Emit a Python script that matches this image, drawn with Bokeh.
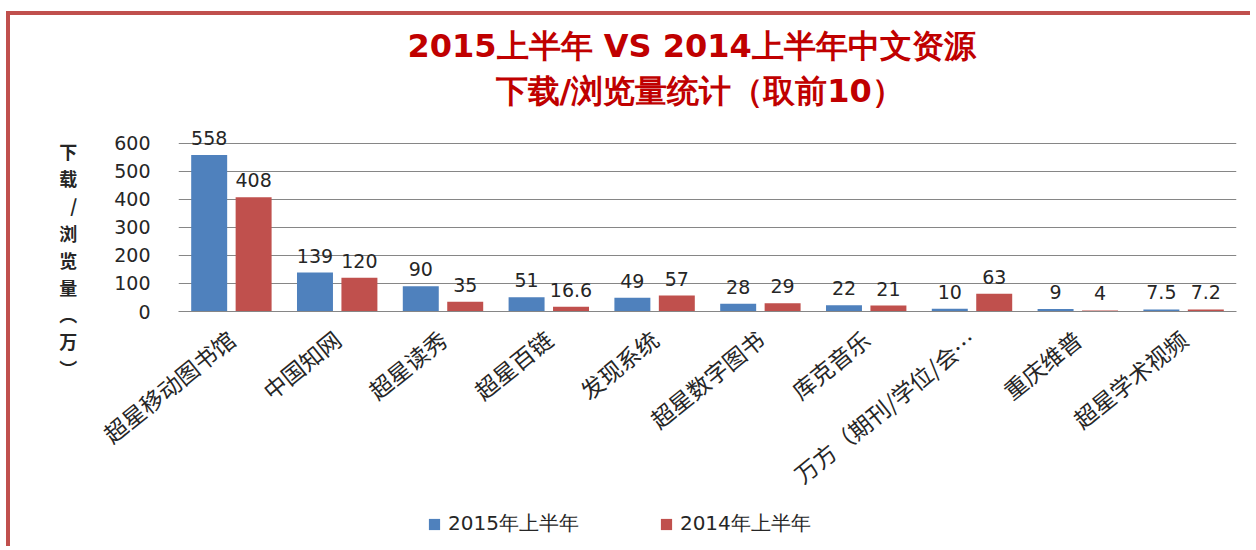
import numpy as np
from bokeh.plotting import figure
from bokeh.layouts import column
from bokeh.models import (ColumnDataSource, FactorRange, Range1d, FixedTicker, Legend, LegendItem,
                          LabelSet, Title)
from bokeh.transform import dodge
from bokeh.core.properties import value
from bokeh.embed import file_html
from bokeh.resources import INLINE

categories = ["超星移动图书馆", "中国知网", "超星读秀", "超星百链", "发现系统",
              "超星数字图书", "库克音乐", "万方（期刊/学位/会…", "重庆维普", "超星学术视频"]
v2015 = [558, 139, 90, 51, 49, 28, 22, 10, 9, 7.5]
v2014 = [408, 120, 35, 16.6, 57, 29, 21, 63, 4, 7.2]
series_names = ["2015年上半年", "2014年上半年"]
y_ticks = [0, 100, 200, 300, 400, 500, 600]
title_line1 = "2015上半年 VS 2014上半年中文资源"
title_line2 = "下载/浏览量统计（取前10）"
y_label = "\n\n\n下\n载\n/\n浏\n览\n量\n︵\n万\n︶"

BLUE = "#4F81BD"
RED = "#C0504D"
LATIN = "DejaVu Sans"
CJK = "Noto Sans CJK SC"

src = ColumnDataSource(dict(
    cat=categories,
    a=v2015, b=v2014,
    la=[f"{v:g}" for v in v2015],
    lb=[f"{v:g}" for v in v2014],
))

p = figure(width=1240, height=491, x_range=FactorRange(*categories), y_range=Range1d(0, 660),
           output_backend="svg", toolbar_location=None,
           min_border_left=168, min_border_right=14, min_border_top=111, min_border_bottom=191)
p.outline_line_color = None
p.background_fill_color = "white"

# two centred title lines (line nearest the plot added first)
p.add_layout(Title(text=title_line2, align="left", offset=317, text_font_size="32px",
                   text_color="#C00000", text_font_style="bold", text_font=LATIN, standoff=33), "above")
p.add_layout(Title(text=title_line1, align="left", offset=229, text_font_size="32px",
                   text_color="#C00000", text_font_style="bold", text_font=LATIN, standoff=-22), "above")

r1 = p.vbar(x=dodge("cat", -0.21, range=p.x_range), top="a", width=0.34, source=src,
            fill_color=BLUE, line_color=None)
r2 = p.vbar(x=dodge("cat", 0.21, range=p.x_range), top="b", width=0.34, source=src,
            fill_color=RED, line_color=None)

for col, lab, off in (("a", "la", -0.21), ("b", "lb", 0.21)):
    p.add_layout(LabelSet(x=dodge("cat", off, range=p.x_range), y=col, text=lab, source=src,
                          text_align="center", text_baseline="bottom", y_offset=10,
                          text_font=value(LATIN), text_font_size=value("19px"),
                          text_color=value("#262626")))

p.yaxis.ticker = FixedTicker(ticks=y_ticks)
p.yaxis.axis_line_color = None
p.yaxis.major_tick_line_color = None
p.yaxis.major_tick_out = 0
p.yaxis.major_tick_in = 0
p.yaxis.minor_tick_line_color = None
p.yaxis.major_label_standoff = 28
p.yaxis.major_label_text_font = LATIN
p.yaxis.major_label_text_font_size = "19px"
p.yaxis.major_label_text_color = "#262626"
p.yaxis.axis_label = y_label
p.yaxis.axis_label_orientation = "horizontal"
p.yaxis.axis_label_text_font = CJK
p.yaxis.axis_label_text_font_size = "18px"
p.yaxis.axis_label_text_font_style = "bold"
p.yaxis.axis_label_text_color = "#262626"
p.yaxis.axis_label_text_line_height = 1.04
p.yaxis.axis_label_standoff = 34

p.xaxis.axis_line_color = "#868686"
p.xaxis.major_tick_line_color = None
p.xaxis.minor_tick_line_color = None
p.xaxis.major_tick_out = 0
p.xaxis.major_tick_in = 0
p.xaxis.major_label_orientation = 0.68
p.xaxis.major_label_standoff = 24
p.xaxis.major_label_text_font = CJK
p.xaxis.major_label_text_font_size = "23px"
p.xaxis.major_label_text_color = "#262626"

p.xgrid.grid_line_color = None
p.ygrid.grid_line_color = "#868686"
p.ygrid.grid_line_width = 1

# legend strip below the chart (its own bars are hidden, only the legend shows)
pl = figure(width=1240, height=40, output_backend="svg", toolbar_location=None, min_border=0,
            x_range=FactorRange(*categories), y_range=Range1d(-1000, -999))
pl.axis.visible = False
pl.grid.grid_line_color = None
pl.outline_line_color = None
g1 = pl.vbar(x="cat", top="a", width=0.34, source=src, fill_color=BLUE, line_color=None)
g2 = pl.vbar(x="cat", top="b", width=0.34, source=src, fill_color=RED, line_color=None)
g1.visible = False
g2.visible = False
legend = Legend(items=[LegendItem(label=series_names[0], renderers=[g1]),
                       LegendItem(label=series_names[1], renderers=[g2])],
                orientation="horizontal", location=(249, 9),
                label_text_font=LATIN, label_text_font_size="20px", label_text_color="#262626",
                glyph_width=14, glyph_height=14, label_standoff=7, spacing=80,
                border_line_color=None, background_fill_alpha=0, margin=0, padding=0,
                inactive_fill_alpha=0)
pl.add_layout(legend, "center")

layout = column(p, pl, spacing=0,
                styles={"border-left": "4px solid #C0504D", "border-top": "4px solid #C0504D",
                        "margin-top": "11px", "margin-left": "6px"})

open("out.html", "w").write(file_html(layout, INLINE))
